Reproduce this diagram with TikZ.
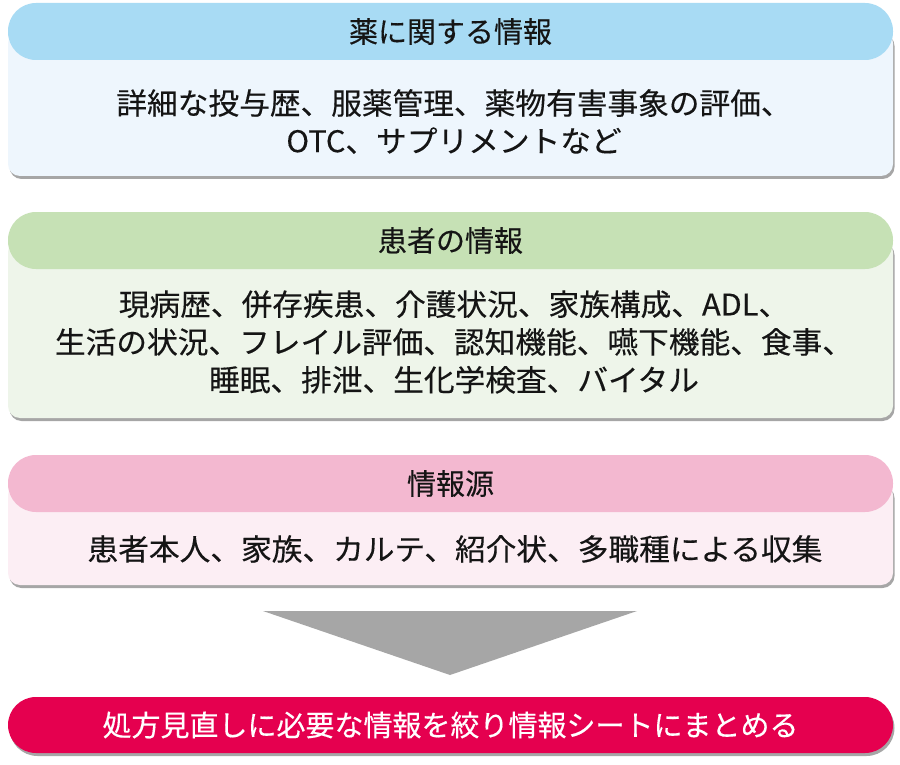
\documentclass[tikz,border=0pt]{standalone}
\usepackage{fontspec}
\newfontfamily\jp[FakeStretch=1.03,FakeBold=0.3]{Noto Sans CJK JP}
\newfontfamily\jph[FakeBold=0.3]{Noto Sans CJK JP}
\usetikzlibrary{shadows}
\definecolor{hdA}{HTML}{A8DBF4}
\definecolor{bdA}{HTML}{EEF6FD}
\definecolor{hdB}{HTML}{C6E1B5}
\definecolor{bdB}{HTML}{EEF5EA}
\definecolor{hdC}{HTML}{F3B8D0}
\definecolor{bdC}{HTML}{FCEEF4}
\definecolor{pillc}{HTML}{E5004F}
\definecolor{triC}{HTML}{A6A6A6}
\definecolor{txt}{HTML}{151515}
\tikzset{
  x=1pt,y=-1pt,
  bodybox/.style={draw=none, rectangle, rounded corners=12pt, minimum width=885pt, inner sep=0pt,
    drop shadow={shadow xshift=1.5pt, shadow yshift=-3pt, opacity=0.35, fill=black}},
  headbox/.style={draw=none, rectangle, rounded corners=28pt, minimum width=885pt, minimum height=57pt, inner sep=0pt},
  headtxt/.style={font=\jph\fontsize{29}{34}\selectfont, text=txt, inner sep=0pt},
  bodytxt/.style={font=\jp\fontsize{29.8}{37.8}\selectfont, text=txt, align=center, inner sep=0pt},
}
\begin{document}
\begin{tikzpicture}
\useasboundingbox[fill=white] (0,0) rectangle (900,765);
% box 1
\node[bodybox, fill=bdA, minimum height=145pt] (b1) at (450.5,103.5) {};
\node[headbox, fill=hdA] (h1) at (450.5,31.5) {};
\node[headtxt] (h1t) at (h1.center) {薬に関する情報};
\node[bodytxt] (b1t) at (454,121.5) {詳細な投与歴、服薬管理、薬物有害事象の評価、\\OTC、サプリメントなど};
% box 2
\node[bodybox, fill=bdB, minimum height=178pt] (b2) at (450.5,329) {};
\node[headbox, fill=hdB] (h2) at (450.5,240.5) {};
\node[headtxt] (h2t) at (h2.center) {患者の情報};
\node[bodytxt] (b2t) at (454,342) {現病歴、併存疾患、介護状況、家族構成、ADL、\\生活の状況、フレイル評価、認知機能、嚥下機能、食事、\\睡眠、排泄、生化学検査、バイタル};
% box 3
\node[bodybox, fill=bdC, minimum height=102pt] (b3) at (450.5,534) {};
\node[headbox, fill=hdC] (h3) at (450.5,483.5) {};
\node[headtxt] (h3t) at (h3.center) {情報源};
\node[bodytxt] (b3t) at (455,549) {患者本人、家族、カルテ、紹介状、多職種による収集};
% arrow triangle
\coordinate (tl) at (263,611);
\coordinate (tr) at (637,611);
\coordinate (tp) at (450,675);
\fill[triC] (tl) -- (tr) -- (tp) -- cycle;
% final pill
\node[headbox, fill=pillc, minimum height=56pt,
  drop shadow={shadow xshift=1.5pt, shadow yshift=-3pt, opacity=0.35, fill=black}] (p) at (450.5,725) {};
\node[font=\jph\fontsize{29}{34}\selectfont, text=white, inner sep=0pt] (pt) at (p.center) {処方見直しに必要な情報を絞り情報シートにまとめる};
\end{tikzpicture}
\end{document}
